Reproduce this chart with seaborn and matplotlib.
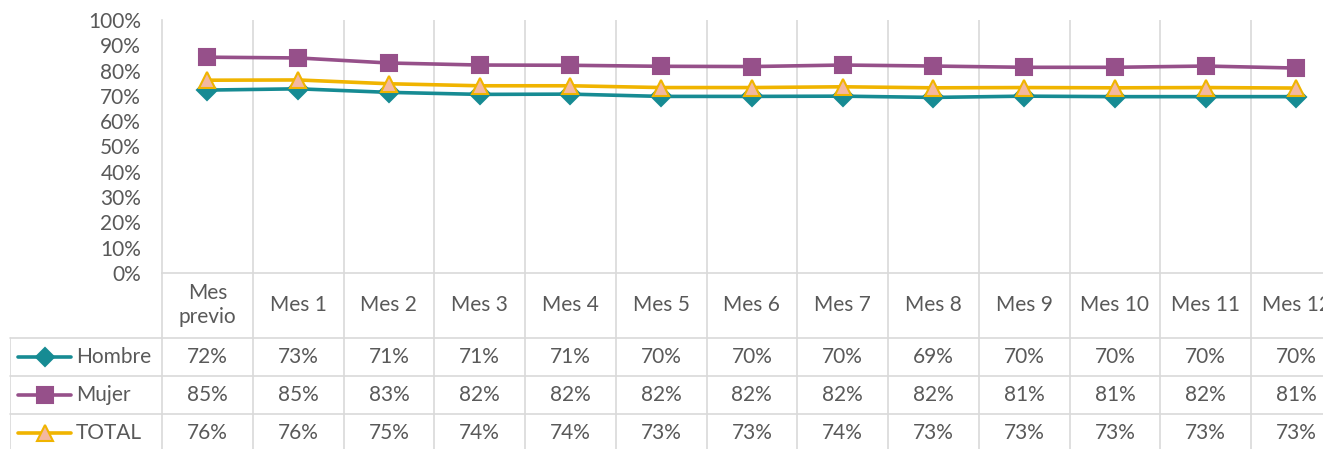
import numpy as np
import pandas as pd
import matplotlib
matplotlib.use("Agg")
import matplotlib.pyplot as plt
import seaborn as sns

# Data (percent)
meses = ["Mes\nprevio", "Mes 1", "Mes 2", "Mes 3", "Mes 4", "Mes 5", "Mes 6",
         "Mes 7", "Mes 8", "Mes 9", "Mes 10", "Mes 11", "Mes 12"]
hombre = [72.3, 72.8, 71.4, 70.6, 70.7, 69.8, 69.8, 69.9, 69.4, 69.9, 69.7, 69.7, 69.7]
mujer = [85.3, 85.0, 83.0, 82.2, 82.1, 81.7, 81.6, 82.2, 81.8, 81.3, 81.3, 81.8, 81.0]
total = [76.2, 76.3, 74.8, 74.0, 74.0, 73.3, 73.3, 73.6, 73.2, 73.3, 73.2, 73.3, 73.1]
series_names = ["Hombre", "Mujer", "TOTAL"]
y_ticks = list(range(0, 101, 10))

df = pd.DataFrame({"mes": meses, "Hombre": hombre, "Mujer": mujer, "TOTAL": total})
df["x"] = np.arange(len(meses))

sns.set_theme(style="white")
plt.rcParams["font.family"] = ["Lato", "DejaVu Sans"]

TXT = "#595959"
GRID = "#D9D9D9"
FS = 15
styles = {
    "Hombre": dict(color="#168B93", marker="D", ms=10, mfc="#168B93", mec="#168B93"),
    "Mujer": dict(color="#96508A", marker="s", ms=12, mfc="#96508A", mec="#96508A"),
    "TOTAL": dict(color="#F0B400", marker="^", ms=12, mfc="#F4B8A0", mec="#F0B400"),
}

W, H = 1323, 449
fig = plt.figure(figsize=(W / 100, H / 100), dpi=100)

col_w = 90.75
x0_px, y0_px, y100_px = 162, 273, 20
n = len(meses)
right_px = x0_px + n * col_w

# chart area
ax = fig.add_axes([x0_px / W, (H - y0_px) / H, (right_px - x0_px) / W, (y0_px - y100_px) / H])
for name in series_names:
    s = styles[name]
    sns.lineplot(data=df, x="x", y=name, ax=ax, color=s["color"], lw=2.6,
                 marker=s["marker"], markersize=s["ms"], markerfacecolor=s["mfc"],
                 markeredgecolor=s["mec"], markeredgewidth=1.5, zorder=3)
ax.set_xlim(-0.5, n - 0.5)
ax.set_ylim(0, 100)
ax.set_yticks(y_ticks)
ax.set_yticklabels([f"{t}%" for t in y_ticks], color=TXT, fontsize=FS)
ax.tick_params(axis="y", length=0, pad=15)
ax.set_xticks([])
ax.set_xlabel("")
ax.set_ylabel("")
for sp in ["top", "right"]:
    ax.spines[sp].set_visible(False)
for sp in ["left", "bottom"]:
    ax.spines[sp].set_color(GRID)
    ax.spines[sp].set_linewidth(1.2)
for k in range(1, n + 1):
    ax.axvline(k - 0.5, color=GRID, lw=1.2, zorder=1)

# data table below
tbl_left_px = 10
xl = -0.5 - (x0_px - tbl_left_px) / col_w
axt = fig.add_axes([tbl_left_px / W, 0, (right_px - tbl_left_px) / W, (H - y0_px) / H])
axt.set_xlim(xl, n - 0.5)
axt.set_ylim(H, y0_px)
axt.axis("off")

row_lines = [338, 376, 414]
row_centers = [357, 395, 433]
for yl in row_lines:
    axt.plot([xl, n - 0.5], [yl, yl], color=GRID, lw=1.2, clip_on=False)
axt.plot([xl, xl], [row_lines[0], H], color=GRID, lw=1.2)
for k in range(n + 1):
    axt.plot([k - 0.5, k - 0.5], [y0_px, H], color=GRID, lw=1.2)

for i, m in enumerate(meses):
    axt.text(i, 305, m, ha="center", va="center", color=TXT, fontsize=FS, linespacing=1.25)

px = lambda p: -0.5 + (p - x0_px) / col_w
for name, yc in zip(series_names, row_centers):
    s = styles[name]
    axt.plot([px(18), px(71)], [yc, yc], color=s["color"], lw=2.6)
    axt.plot([px(44.5)], [yc], marker=s["marker"], ms=s["ms"] - 1, mfc=s["mfc"],
             mec=s["mec"], mew=1.5, ls="none")
    axt.text(px(76), yc, name, ha="left", va="center", color=TXT, fontsize=FS)
    for i, v in enumerate(df[name]):
        axt.text(i, yc, f"{v:.0f}%", ha="center", va="center", color=TXT, fontsize=FS)

fig.savefig("out.png", dpi=100)
